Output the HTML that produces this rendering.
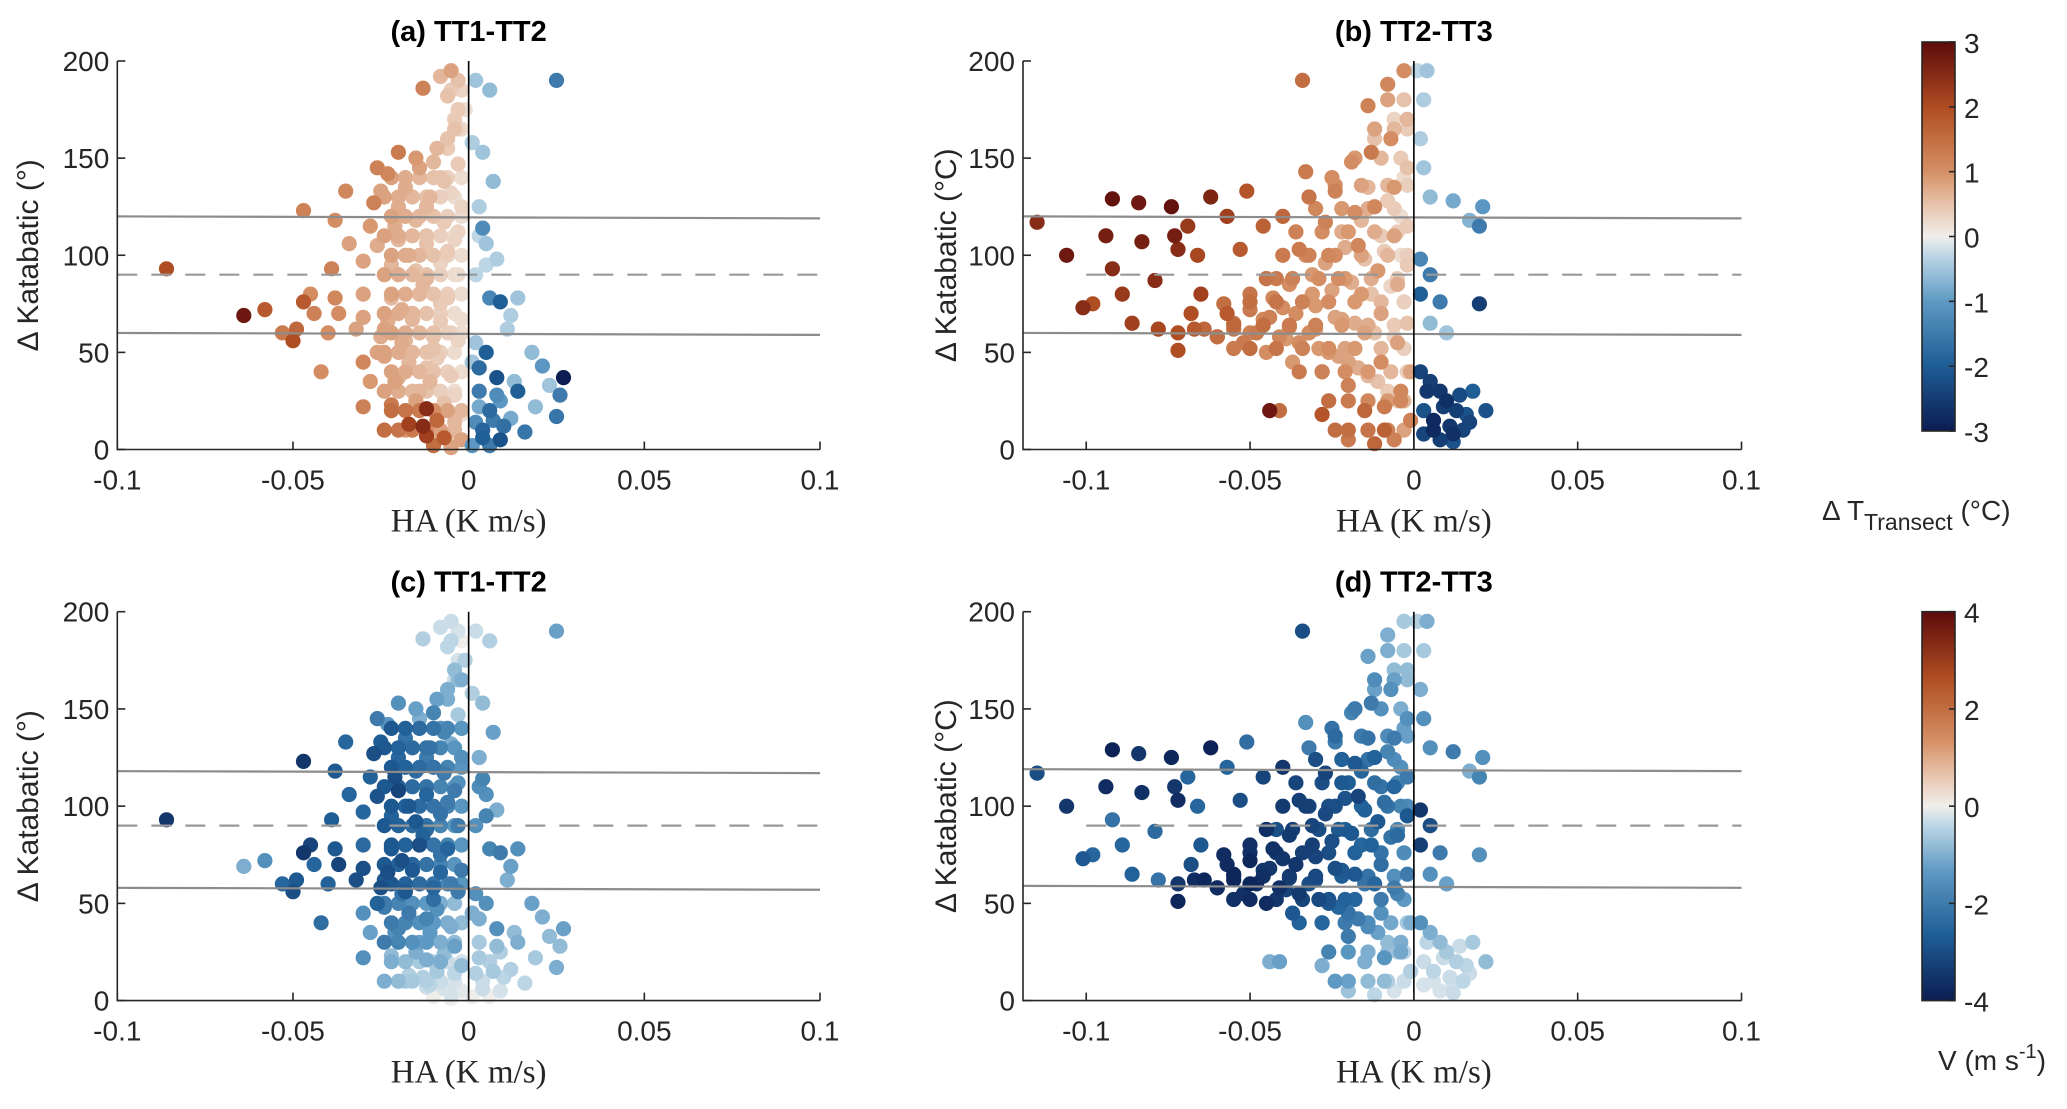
<!DOCTYPE html>
<html><head><meta charset="utf-8">
<style>
html,body{margin:0;padding:0;background:#fff;}
svg{display:block;}
text{font-family:"Liberation Sans Narrow","Liberation Sans",sans-serif;fill:#262626;}
.tick{font-size:28px;}
.title{font-size:29px;font-weight:bold;fill:#000;}
.ylab{font-family:"Liberation Sans","DejaVu Sans",sans-serif;font-size:30px;}
.xlab{font-family:"Liberation Serif",serif;font-size:33px;}
</style></head>
<body>
<svg id="fig" width="2067" height="1109" viewBox="0 0 2067 1109">
<defs>
<linearGradient id="cmap" x1="0" y1="1" x2="0" y2="0">
<stop offset="0" stop-color="#0b1d51"/><stop offset="0.17" stop-color="#1f5e96"/>
<stop offset="0.33" stop-color="#5c98c2"/><stop offset="0.45" stop-color="#bcd6e6"/>
<stop offset="0.5" stop-color="#f0eeeb"/><stop offset="0.58" stop-color="#e8c4ad"/>
<stop offset="0.67" stop-color="#d48e63"/><stop offset="0.83" stop-color="#b04d22"/>
<stop offset="1" stop-color="#5c0b0b"/>
</linearGradient>
</defs>
<g id="root"></g>
</svg>
<script>
// ---- data: panels a/c (TT1-TT2) ----
const haA=[-0.005,-0.003,-0.008,-0.002,0.002,0.006,0.025,-0.013,-0.003,-0.004,-0.006,0.001,0.004,-0.02,-0.015,-0.01,-0.003,-0.026,-0.023,-0.014,0.007,-0.035,-0.025,-0.018,-0.008,-0.005,-0.027,-0.047,-0.02,-0.012,-0.002,0.003,-0.038,-0.028,-0.021,-0.015,-0.007,0.004,-0.034,-0.026,-0.02,-0.012,-0.004,0.005,0.008,-0.086,-0.039,-0.03,-0.022,-0.015,-0.008,-0.003,0.002,-0.045,-0.047,-0.038,-0.03,-0.022,-0.014,-0.006,0.006,0.014,0.009,-0.064,-0.058,-0.044,-0.037,-0.03,-0.023,-0.016,-0.008,-0.002,0.012,-0.053,-0.05,-0.049,-0.04,-0.032,-0.025,-0.018,-0.01,-0.003,0.011,-0.03,-0.042,-0.024,-0.017,-0.009,0.005,0.018,0.001,0.003,0.021,-0.028,-0.02,-0.011,-0.005,0.008,0.013,0.027,0.023,0.014,0.026,-0.03,-0.022,-0.015,-0.012,-0.007,0.003,0.009,0.019,0.025,-0.017,-0.013,-0.009,-0.004,0.002,0.007,0.012,0.016,-0.012,-0.007,-0.002,0.004,0.009,-0.01,-0.005,0.001,0.006,
-0.006,-0.004,-0.009,-0.002,-0.011,-0.007,-0.003,-0.017,-0.012,-0.006,-0.019,-0.013,-0.008,-0.024,-0.016,-0.01,-0.005,-0.026,-0.019,-0.012,-0.004,-0.021,-0.014,-0.008,-0.002,-0.018,-0.011,-0.005,
-0.022,-0.018,-0.014,-0.010,-0.006,-0.002, -0.024,-0.02,-0.016,-0.012,-0.008,-0.004,
-0.022,-0.018,-0.014,-0.010,-0.006,-0.002, -0.024,-0.02,-0.016,-0.012,-0.008,-0.004,
-0.022,-0.018,-0.014,-0.010,-0.006,-0.002, -0.024,-0.02,-0.016,-0.012,-0.008,-0.004,
-0.022,-0.018,-0.014,-0.010,-0.006,-0.002, -0.024,-0.02,-0.016,-0.012,-0.008,-0.004,
-0.022,-0.018,-0.014,-0.010,-0.006,-0.002, -0.024,-0.02,-0.016,-0.012,-0.008,-0.004,
-0.022,-0.018,-0.014,-0.010,-0.006,-0.002, -0.024,-0.02,-0.016,-0.012,-0.008,-0.004,
-0.022,-0.018,-0.014,-0.010,-0.006,-0.002, -0.024,-0.02,-0.016,-0.012,-0.008,-0.004,
-0.006,-0.003,-0.005,-0.001, 0.003,0.006,0.004,0.01,0.008,0.002,0.005,0.003];
const kaA=[195,190,192,185,190,185,190,186,175,165,160,158,153,153,150,148,147,145,142,145,138,133,133,135,140,132,127,123,125,125,125,125,118,115,115,118,117,114,106,105,108,106,108,106,98,93,93,97,95,92,96,90,90,80,76,78,80,78,80,78,78,78,76,69,72,70,70,68,66,67,66,67,69,60,56,62,60,62,58,56,58,56,62,45,40,48,45,47,50,50,45,42,43,35,37,35,38,37,35,37,33,30,28,22,23,25,21,24,22,25,22,17,13,12,15,14,14,15,16,9,7,6,5,6,5,2,1,2,2,
182,170,155,165,130,138,112,100,88,102,72,85,75,62,70,52,60,50,55,42,28,35,30,20,18,10,8,3,
140,140,140,140,140,140, 130,130,130,130,130,130,
120,120,120,120,120,120, 110,110,110,110,110,110,
100,100,100,100,100,100, 90,90,90,90,90,90,
80,80,80,80,80,80, 70,70,70,70,70,70,
60,60,60,60,60,60, 50,50,50,50,50,50,
40,40,40,40,40,40, 30,30,30,30,30,30,
20,20,20,20,20,20, 10,10,10,10,10,10,
155,165,185,175, 30,20,10,12,28,55,95,110];
const dtA=[0.8,0.5,0.6,0.3,-0.5,-0.6,-1.5,1.2,0.4,0.5,0.5,-0.4,-0.5,1.3,0.9,0.6,0.4,1.2,1.1,0.8,-0.6,1.1,0.8,0.7,0.5,0.3,1.2,1.2,0.7,0.6,0.3,-0.4,1.0,0.9,0.7,0.6,0.4,-1.2,0.8,0.7,0.6,0.5,0.3,-0.5,-0.4,2,1.2,0.8,0.6,0.5,0.3,0.2,-0.3,1.0,1.8,1.1,0.8,0.6,0.5,0.4,-1.3,-0.5,-2,2.8,1.8,1.2,1.0,0.8,0.7,0.6,0.4,0.2,-0.4,1.3,2,1.6,1.0,0.8,0.7,0.6,0.5,0.3,-0.4,1.1,1.0,0.8,0.6,0.4,-2,-0.6,-0.5,-1.8,-1,0.9,0.7,0.6,0.4,-2.2,-0.6,-3,-0.5,-2,-1.5,1.2,1.3,0.8,2.5,0.5,-0.8,-1,-0.6,-1.6,2.2,2.5,1.6,0.6,-1.2,-1.5,-0.8,-1.6,2.2,1.8,0.8,-2,-2.2,1.5,0.8,-1,-1.5,
0.5,0.4,0.6,0.2,0.6,0.5,0.3,0.7,0.6,0.4,0.7,0.6,0.4,0.8,0.6,0.5,0.3,0.8,0.7,0.5,0.3,0.8,0.6,0.5,0.2,0.9,0.7,0.5,
0.8,0.7,0.6,0.5,0.35,0.2, 0.8,0.7,0.6,0.5,0.35,0.2,
0.8,0.7,0.6,0.5,0.35,0.2, 0.8,0.7,0.6,0.5,0.35,0.2,
0.8,0.7,0.6,0.5,0.35,0.2, 0.8,0.7,0.6,0.5,0.35,0.2,
0.8,0.7,0.6,0.5,0.35,0.2, 0.8,0.7,0.6,0.5,0.35,0.2,
0.8,0.7,0.6,0.5,0.35,0.2, 0.8,0.7,0.6,0.5,0.35,0.2,
0.8,0.7,0.6,0.5,0.35,0.2, 0.8,0.7,0.6,0.5,0.35,0.2,
1.5,1.4,1.3,1.0,0.8,0.6, 1.5,1.4,1.3,1.0,0.8,0.6,
0.4,0.3,0.4,0.2, -1.5,-1.8,-1.9,-1.7,-1.2,-0.5,-0.3,-0.3];
const vA=[-0.3,-0.2,-0.3,0,-0.3,-0.5,-1.2,-0.5,-0.2,-0.3,-1,-0.5,-0.8,-1.5,-1.2,-1.8,-0.6,-2,-1.4,-1,-1.2,-2.5,-2.7,-2.2,-1.5,-1,-3,-3.5,-2.5,-2,-1.5,-1,-2.8,-2.6,-3,-2.4,-2,-1.8,-2.5,-2.9,-3.2,-2.5,-2,-1.5,-1,-3.5,-2.7,-2.5,-2.6,-2.8,-2.2,-2,-1.5,-3.2,-3.5,-2.8,-2.4,-2.8,-3,-2.5,-1.8,-1.5,-2,-1,-1.5,-2.5,-3.2,-3,-3,-2.8,-2.5,-2,-1.2,-2.5,-3,-2.8,-2.6,-3,-3,-2.8,-2.5,-2,-1,-1.5,-2.3,-2,-2,-1.5,-1.5,-1.2,-1,-1,-1,-1.2,-1.8,-1.3,-1,-1.5,-0.8,-1.2,-0.8,-1,-0.8,-1.5,-0.8,-1,-1,-0.8,-0.6,-0.5,-0.6,-1,-0.5,-0.5,-0.6,-0.4,-0.5,-0.6,-0.5,-0.4,-0.3,-0.2,-0.1,-0.3,-0.2,0,0,0,0,
-0.4,-0.8,-1.2,-1,-2.2,-1.8,-1.5,-2.8,-2.4,-2,-3,-2.6,-2.2,-2.8,-2.5,-2.3,-2,-2.6,-2.2,-1.8,-1.2,-1.5,-1.2,-1,-0.8,-0.6,-0.4,-0.2,
-2.8,-2.6,-2.4,-2.2,-1.8,-1.4, -2.8,-2.6,-2.4,-2.2,-1.8,-1.4,
-2.8,-2.6,-2.4,-2.2,-1.8,-1.4, -2.8,-2.6,-2.4,-2.2,-1.8,-1.4,
-2.8,-2.6,-2.4,-2.2,-1.8,-1.4, -2.8,-2.6,-2.4,-2.2,-1.8,-1.4,
-2.8,-2.6,-2.4,-2.2,-1.8,-1.4, -2.8,-2.6,-2.4,-2.2,-1.8,-1.4,
-2.8,-2.6,-2.4,-2.2,-1.8,-1.4, -2,-1.8,-1.5,-1.3,-1,-0.8,
-2,-1.8,-1.5,-1.3,-1,-0.8, -2,-1.8,-1.5,-1.3,-1,-0.8,
-1,-0.8,-0.6,-0.5,-0.3,-0.2, -1,-0.8,-0.6,-0.5,-0.3,-0.2,
-1,-0.8,-0.4,-0.5, -0.6,-0.5,-0.3,-0.4,-0.8,-1.5,-1.8,-1.6];
// ---- data: panels b/d (TT2-TT3) ----
const haB=[-0.115,-0.106,-0.101,-0.098,-0.094,-0.092,-0.092,-0.089,-0.086,-0.084,-0.083,-0.079,-0.078,-0.074,-0.073,-0.072,-0.072,-0.072,-0.069,-0.068,-0.067,-0.066,-0.065,-0.062,-0.06,-0.057,-0.057,-0.055,-0.055,-0.053,-0.051,-0.05,-0.05,-0.046,-0.046,-0.045,-0.044,-0.041,-0.042,-0.04,-0.04,-0.039,-0.037,-0.035,-0.034,-0.033,-0.032,-0.031,-0.03,-0.028,-0.028,-0.027,-0.026,-0.025,-0.024,-0.023,-0.022,-0.021,-0.02,-0.019,-0.018,-0.017,-0.016,-0.015,-0.015,-0.014,-0.013,-0.012,-0.011,-0.01,-0.01,-0.009,-0.008,-0.007,-0.006,-0.006,-0.005,-0.005,-0.004,-0.003,-0.002,-0.002,-0.002,-0.002,-0.002,-0.001,-0.001,0.001,0.004,0.003,0.002,0.003,0.005,0.002,0.005,0.002,0.008,0.005,0.01,0.002,0.005,0.008,0.01,0.013,0.016,0.006,0.011,0.015,0.003,0.008,0.012,0.018,0.022,0.02,0.021,0.02,0.012,0.017,-0.024,-0.02,-0.012,-0.006,
-0.064,-0.06,-0.055,-0.052,-0.048,-0.044,-0.041,-0.038,-0.035,-0.032,-0.029,-0.026,-0.023,-0.02,-0.017,-0.014,-0.011,-0.008,-0.005,-0.058,-0.05,-0.043,-0.036,-0.03,-0.024,-0.018,-0.012,-0.006,-0.045,-0.038,-0.031,-0.025,-0.019,-0.013,-0.007,-0.033,-0.027,-0.021,-0.015,-0.009,-0.004,-0.022,-0.016,-0.01,-0.004,-0.014,-0.008,-0.003,-0.018,-0.012,-0.006,-0.009,-0.004,
-0.02,-0.014,-0.008,-0.003,
-0.026,-0.02,-0.014,-0.008,-0.003,
-0.035,-0.028,-0.021,-0.014,-0.007,-0.002,
-0.05,-0.042,-0.034,-0.026,-0.018,-0.01,-0.003,
-0.055,-0.046,-0.038,-0.03,-0.022,-0.014,-0.006,
-0.05,-0.042,-0.034,-0.026,-0.018,-0.01,-0.003,
-0.045,-0.037,-0.029,-0.021,-0.013,-0.005,
-0.04,-0.032,-0.024,-0.016,-0.008,-0.002,
-0.036,-0.028,-0.02,-0.012,-0.005,
-0.03,-0.022,-0.014,-0.006,
-0.024,-0.016,-0.008,-0.002,
-0.018,-0.01,-0.004,
-0.012,-0.006,-0.002,
-0.008,-0.003,
0.004,0.009,0.014,0.006,0.012,0.003,0.017];
const kaB=[117,100,73,75,110,129,93,80,65,127,107,87,62,125,110,103,60,51,115,70,62,100,80,130,58,120,70,62,52,103,133,80,60,115,67,50,20,20,88,120,73,57,45,103,190,143,130,80,62,40,18,117,100,140,133,88,67,52,33,148,122,105,80,60,20,177,153,125,92,70,45,10,188,160,135,110,85,55,30,195,170,145,115,95,65,40,15,195,195,180,160,145,130,98,90,80,76,65,60,40,35,30,25,20,18,15,12,10,8,5,4,30,20,115,125,75,128,118,10,5,3,5,
62,58,65,55,60,68,58,63,55,60,52,50,48,45,42,38,35,30,25,75,72,78,70,74,68,65,60,58,88,85,90,82,86,80,84,100,96,104,98,102,100,112,118,110,120,135,128,140,150,160,170,22,25,
10,10,10,10,
25,25,25,25,25,
40,40,40,40,40,40,
52,52,52,52,52,52,52,
64,64,64,64,64,64,64,
76,76,76,76,76,76,76,
88,88,88,88,88,88,
100,100,100,100,100,100,
112,112,112,112,112,
124,124,124,124,
136,136,136,136,
150,150,150,
165,165,165,
180,180,
30,22,28,10,8,20,14];
const dtB=[2.5,2.8,2.5,2,2.7,2.9,2.5,2.3,2.2,2.8,2.7,2.5,2.1,2.9,2.7,2.5,2,2,2.3,2,1.8,2.1,2.2,2.6,1.5,2.2,1.8,1.4,1.3,1.8,1.9,1.4,1.2,1.7,1.1,1,2.8,1.5,1.3,1.6,1,0.9,0.9,1.3,1.5,1.3,1.4,0.9,0.9,1.2,1.9,1.2,1.1,1,1.2,1,0.8,0.8,1.2,1,1,1.1,0.9,0.8,1.6,1.2,1.3,1.1,0.9,0.8,1,1.7,1.1,1,0.9,0.8,0.7,0.8,1.1,1,0.6,0.5,0.4,0.4,0.5,0.8,1.2,-0.3,-0.5,-0.4,-0.4,-0.5,-0.6,-1.3,-1.5,-2,-1.5,-0.6,-0.5,-2.4,-2.5,-2.6,-2.7,-2.5,-2.2,-2.8,-2.6,-2.4,-2.4,-2.5,-2.2,-2,-2.2,-1.5,-1,-2.5,-0.8,-0.7,1.5,1.3,1.6,1.2,
1.6,1.5,1.4,1.3,1.3,1.2,1.1,1.1,1.0,1.0,0.9,0.9,0.8,0.8,0.7,0.6,0.5,0.4,0.3,1.5,1.3,1.1,1.0,0.9,0.8,0.7,0.5,0.3,1.2,1.0,0.9,0.8,0.7,0.5,0.3,1.0,0.8,0.7,0.5,0.4,0.2,0.7,0.6,0.4,0.2,0.6,0.4,0.2,0.7,0.5,0.3,1.3,1.1,
1.5,1.4,1.2,0.8,
1.5,1.3,1.1,0.9,0.6,
1.3,1.2,1.0,0.9,0.6,0.4,
1.5,1.4,1.2,1.0,0.9,0.6,0.35,
1.6,1.5,1.3,1.2,0.9,0.7,0.4,
1.5,1.4,1.2,1.0,0.9,0.6,0.35,
1.4,1.2,1.0,0.9,0.7,0.4,
1.3,1.2,1.0,0.8,0.6,0.35,
1.2,1.0,0.9,0.7,0.4,
1.1,0.9,0.7,0.4,
1.0,0.8,0.6,0.35,
0.9,0.6,0.4,
0.8,0.6,0.4,
0.8,0.5,
-2.6,-2.5,-2.3,-2.8,-2.7,-2.2,-2.4];
const vB=[-3,-3.5,-2.8,-2.5,-3.7,-3.9,-2.2,-2.5,-2.6,-3.5,-3.6,-2.4,-2.2,-3.8,-3.5,-3.7,-3.5,-3.8,-2.5,-3,-3.7,-2.5,-2.8,-3.9,-3.2,-2.5,-3.7,-3.8,-3.6,-3,-2.3,-3.6,-3.8,-3.2,-3.5,-3.7,-1,-1.2,-3,-3.5,-3.5,-3.2,-2.8,-3.3,-3,-1.5,-2,-3.3,-3,-2.5,-1,-3.2,-3,-2.2,-2,-2.8,-2.8,-2.6,-2,-1.8,-2.8,-3.2,-2.5,-2.2,-1,-1.2,-2,-2.6,-2.8,-2.3,-1.5,-0.8,-1,-1.5,-2,-2.5,-2.4,-1.8,-1,-0.6,-0.8,-1.5,-2,-2.8,-2,-1,-0.5,-0.5,-1,-0.6,-1,-1.5,-1.5,-3.5,-3,-3.3,-2,-1.5,-1.2,-1.5,-1,-0.8,-0.6,-0.5,-0.4,-0.4,-0.3,-0.4,-0.2,-0.2,-0.3,-0.6,-0.8,-1.8,-1.5,-1.5,-2,-1,-1.3,-0.7,-0.4,-0.2,
-3.8,-3.7,-3.8,-3.6,-3.7,-3.5,-3.6,-3.3,-3.4,-3.0,-3.1,-2.8,-2.5,-2.2,-2.0,-1.6,-1.2,-0.8,-0.5,-3.7,-3.8,-3.6,-3.5,-3.2,-3.0,-2.8,-2.5,-2.0,-3.6,-3.4,-3.2,-3.0,-2.8,-2.6,-2.2,-3.3,-3.1,-2.9,-2.6,-2.3,-1.8,-2.8,-2.5,-2.2,-1.5,-2.2,-1.8,-1.2,-1.5,-1.2,-0.8,-1.4,-1.1,
-1.2,-0.8,-0.5,-0.3,
-1.8,-1.4,-1,-0.7,-0.4,
-2.6,-2.3,-2,-1.6,-1.1,-0.6,
-3.7,-3.5,-3.2,-2.9,-2.5,-2,-1.3,
-3.7,-3.6,-3.4,-3.1,-2.7,-2.2,-1.5,
-3.6,-3.5,-3.3,-3,-2.6,-2.2,-1.6,
-3.5,-3.3,-3,-2.7,-2.3,-1.8,
-3.4,-3.2,-3,-2.6,-2.2,-1.6,
-3.2,-3,-2.7,-2.3,-1.8,
-3,-2.6,-2.2,-1.6,
-2.4,-2,-1.6,-1.2,
-2,-1.5,-1,
-1.6,-1.2,-0.8,
-1,-0.6,
-0.4,-0.3,-0.3,-0.2,-0.2,-0.3,-0.3];
const cbTicksT=[3,2,1,0,-1,-2,-3];
const cbTicksV=[4,2,0,-2,-4];
const xTicks=[-0.1,-0.05,0,0.05,0.1];
const yTicks=[0,50,100,150,200];

const NS="http://www.w3.org/2000/svg";
const root=document.getElementById('root');
function mk(tag,attrs,parent){const e=document.createElementNS(NS,tag);for(const k in attrs)e.setAttribute(k,attrs[k]);(parent||root).appendChild(e);return e;}
const stops=[[-1,[11,29,81]],[-0.67,[31,94,150]],[-0.33,[92,152,194]],[-0.1,[188,214,230]],[0,[240,238,235]],[0.16,[232,196,173]],[0.33,[212,142,99]],[0.67,[176,77,34]],[1,[92,11,11]]];
function cmap(v){v=Math.max(-1,Math.min(1,v));for(let i=1;i<stops.length;i++){if(v<=stops[i][0]){const a=stops[i-1],b=stops[i];const t=(v-a[0])/(b[0]-a[0]);const c=a[1].map((q,j)=>Math.round(q+(b[1][j]-q)*t));return `rgb(${c[0]},${c[1]},${c[2]})`;}}return 'rgb(92,11,11)';}

function panel(o){
  const g=mk('g',{});
  
  
  const sx=v=>o.x0+(v-o.xmin)/(o.xmax-o.xmin)*(o.x1-o.x0);
  const sy=v=>o.y1-(v/200)*(o.y1-o.y0);
  const pg=mk('g',{},g);
  
  
  const idx=o.xs.map((_,i)=>i).sort((a,b)=>Math.abs(o.cs[a])-Math.abs(o.cs[b]));
  idx.forEach(i=>{
    const c=mk('circle',{cx:sx(o.xs[i]).toFixed(1),cy:sy(o.ys[i]).toFixed(1),r:7.6,fill:cmap(o.cs[i]/o.cmax)},pg);
    
    
  });
  const l1=mk('line',{x1:o.x0,x2:o.x1,y1:sy(o.hi[0]),y2:sy(o.hi[1]),stroke:'#8c8c8c','stroke-width':2.2},g);
  
  const l2=mk('line',{x1:o.x0,x2:o.x1,y1:sy(o.lo[0]),y2:sy(o.lo[1]),stroke:'#8c8c8c','stroke-width':2.2},g);
  
  const l3=mk('line',{x1:sx(-0.1),x2:o.x1,y1:sy(90),y2:sy(90),stroke:'#999','stroke-width':2.2,'stroke-dasharray':'20,14'},g);
  
  const l4=mk('line',{x1:sx(0),x2:sx(0),y1:sy(200),y2:sy(0),stroke:'#000','stroke-width':1.6},g);
  
  const ax=mk('path',{d:`M${o.x0},${o.y0}V${o.y1}H${o.x1}`,fill:'none',stroke:'#262626','stroke-width':1.6},g);
  
  xTicks.forEach(t=>{
    const x=sx(t);mk('line',{x1:x,x2:x,y1:o.y1,y2:o.y1-8,stroke:'#262626','stroke-width':1.6},g);
    const tx=mk('text',{x:x,y:o.y1+40,'text-anchor':'middle',class:'tick'},g);tx.textContent=String(t);
    
  });
  yTicks.forEach(t=>{
    const y=sy(t);mk('line',{x1:o.x0,x2:o.x0+8,y1:y,y2:y,stroke:'#262626','stroke-width':1.6},g);
    const tx=mk('text',{x:o.x0-8,y:y+10,'text-anchor':'end',class:'tick'},g);tx.textContent=String(t);
    
  });
  const ti=mk('text',{x:(sx(0)),y:o.y0-20,'text-anchor':'middle',class:'title'},g);ti.textContent=o.title;
  
  const xl=mk('text',{x:sx(0),y:o.y1+82,'text-anchor':'middle',class:'xlab'},g);xl.textContent='HA (K m/s)';
  
  const yc=(o.y0+o.y1)/2;
  const yl=mk('text',{x:0,y:0,'text-anchor':'middle',class:'ylab',transform:`translate(${o.ylx},${yc}) rotate(-90)`},g);yl.textContent=o.ylab;
  
}
const top0=61,top1=449.5,bot0=611.7,bot1=1000.6;
panel({name:'panel-a',title:'(a) TT1-TT2',xs:haA,ys:kaA,cs:dtA,cmax:3,x0:117.3,x1:820,xmin:-0.1,xmax:0.1,y0:top0,y1:top1,hi:[120,119],lo:[60,59],ylab:'Δ Katabatic (°)',ylx:38});
panel({name:'panel-b',title:'(b) TT2-TT3',xs:haB,ys:kaB,cs:dtB,cmax:3,x0:1023,x1:1741.5,xmin:-0.1193,xmax:0.1,y0:top0,y1:top1,hi:[120,119],lo:[60,59],ylab:'Δ Katabatic (°C)',ylx:956});
panel({name:'panel-c',title:'(c) TT1-TT2',xs:haA,ys:kaA,cs:vA,cmax:4,x0:117.3,x1:820,xmin:-0.1,xmax:0.1,y0:bot0,y1:bot1,hi:[118,117],lo:[58,57],ylab:'Δ Katabatic (°)',ylx:38});
panel({name:'panel-d',title:'(d) TT2-TT3',xs:haB,ys:kaB,cs:vB,cmax:4,x0:1023,x1:1741.5,xmin:-0.1193,xmax:0.1,y0:bot0,y1:bot1,hi:[119,118],lo:[59,58],ylab:'Δ Katabatic (°C)',ylx:956});

function colorbar(name,y0,y1,ticks,max){
  const g=mk('g',{});
  
  
  mk('rect',{x:1922,y:y0,width:33,height:y1-y0,fill:'url(#cmap)',stroke:'#262626','stroke-width':1.6},g);
  ticks.forEach(t=>{
    const y=y1-(t+max)/(2*max)*(y1-y0);
    mk('line',{x1:1949,x2:1955,y1:y,y2:y,stroke:'#262626','stroke-width':1.6},g);
    const tx=mk('text',{x:1964,y:y+11,class:'tick'},g);tx.textContent=String(t);
    
  });
}
colorbar('colorbar-delta-t',42,431,cbTicksT,3);
colorbar('colorbar-v',611.7,1000.6,cbTicksV,4);
const l1=mk('text',{x:1822,y:520,class:'tick'});
l1.innerHTML='Δ T<tspan font-size="23" dy="10">Transect</tspan><tspan dy="-10"> (°C)</tspan>';


const l2=mk('text',{x:1938,y:1070,class:'tick'});
l2.innerHTML='V (m s<tspan font-size="20" dy="-12">-1</tspan><tspan dy="12">)</tspan>';


</script>
</body></html>
